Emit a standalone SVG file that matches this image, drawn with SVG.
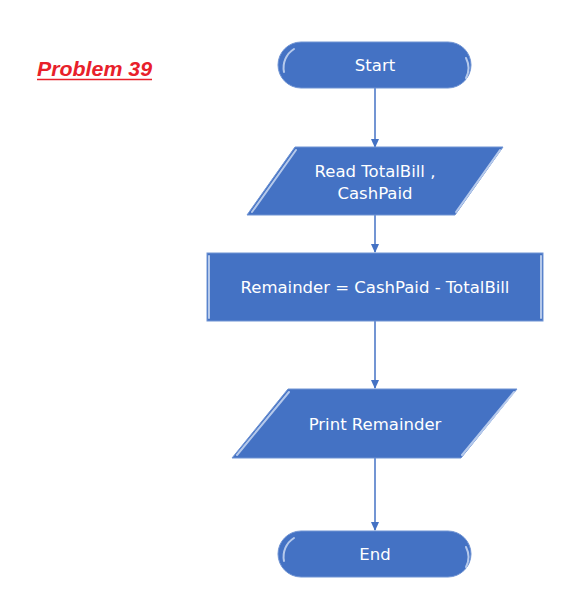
<svg xmlns="http://www.w3.org/2000/svg" width="576" height="616" viewBox="0 0 576 616">
<style>
.shape{fill:#4472C4;stroke:#6f93d3;stroke-width:1}
.hl{fill:none;stroke:#c9d8f2;stroke-width:2;stroke-linecap:round;opacity:0.85}
.lbl{font-family:"DejaVu Sans",sans-serif;font-size:16.5px;fill:#ffffff;text-anchor:middle}
.conn{stroke:#4472C4;stroke-width:1.5;fill:none;marker-end:url(#ah)}
</style>
<defs>
<marker id="ah" markerWidth="10" markerHeight="10" refX="8" refY="5" orient="auto" markerUnits="userSpaceOnUse">
<path d="M0,1 L9,5 L0,9 Z" fill="#4472C4"/>
</marker>
</defs>
<rect width="576" height="616" fill="#ffffff"/>
<g id="title">
<text x="37" y="76" font-family="Liberation Sans, sans-serif" font-size="20" font-weight="bold" font-style="italic" fill="#E8202A" textLength="115" lengthAdjust="spacingAndGlyphs">Problem 39</text>
<line x1="37" y1="79.5" x2="152" y2="79.5" stroke="#E8202A" stroke-width="1.5"/>
</g>
<g id="connectors">
<line class="conn" x1="375" y1="88" x2="375" y2="147"/>
<line class="conn" x1="375" y1="215" x2="375" y2="252"/>
<line class="conn" x1="375" y1="321" x2="375" y2="388"/>
<line class="conn" x1="375" y1="458" x2="375" y2="530"/>
</g>
<g id="start">
<rect class="shape" x="278" y="42" width="193" height="46" rx="23"/>
<path class="hl" d="M284,72 A22,22 0 0 1 294,49" opacity="0.5"/>
<path class="hl" d="M466,58 A22,22 0 0 1 466,78" opacity="0.4"/>
<text class="lbl" x="375" y="71">Start</text>
</g>
<g id="read">
<polygon class="shape" points="295,147 503,147 455,215 247,215"/>
<line class="hl" x1="296" y1="150" x2="252" y2="212"/>
<line class="hl" x1="500" y1="150" x2="456" y2="212" opacity="0.6"/>
<text class="lbl" x="375" y="177">Read TotalBill ,</text>
<text class="lbl" x="375" y="199">CashPaid</text>
</g>
<g id="calc">
<rect class="shape" x="207" y="253" width="336" height="68"/>
<line class="hl" x1="209" y1="256" x2="209" y2="318"/>
<line class="hl" x1="541" y1="256" x2="541" y2="318" opacity="0.6"/>
<text class="lbl" x="375" y="293">Remainder = CashPaid - TotalBill</text>
</g>
<g id="print">
<polygon class="shape" points="288,389 517,389 461,458 232,458"/>
<line class="hl" x1="289" y1="392" x2="237" y2="455"/>
<line class="hl" x1="514" y1="392" x2="462" y2="455" opacity="0.6"/>
<text class="lbl" x="375" y="430">Print Remainder</text>
</g>
<g id="end">
<rect class="shape" x="278" y="531" width="193" height="46" rx="23"/>
<path class="hl" d="M284,561 A22,22 0 0 1 294,538" opacity="0.5"/>
<path class="hl" d="M466,547 A22,22 0 0 1 466,567" opacity="0.4"/>
<text class="lbl" x="375" y="560">End</text>
</g>
</svg>
